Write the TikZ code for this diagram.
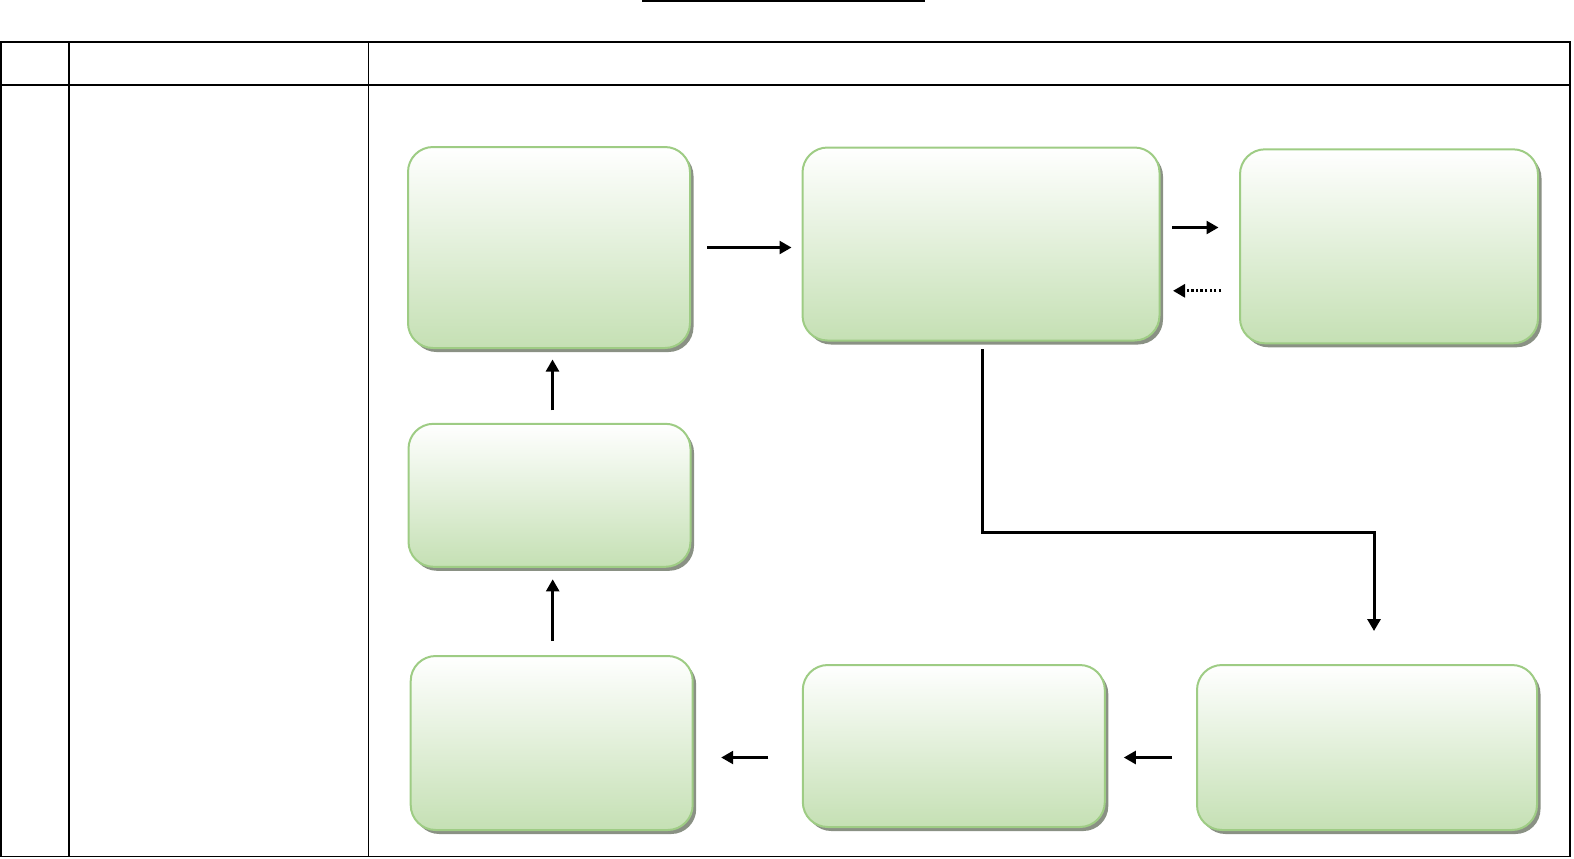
\documentclass[tikz,border=0pt]{standalone}
\usetikzlibrary{arrows.meta,shadows}
\definecolor{boxgreen}{RGB}{197,224,180}
\definecolor{boxline}{RGB}{158,204,132}
\definecolor{boxshadow}{RGB}{138,145,132}
\tikzset{
  stepbox/.style={draw=boxline, line width=0.4mm, rounded corners=5mm,
    top color=white, bottom color=boxgreen, inner sep=0pt,
    drop shadow={shadow xshift=0.7mm, shadow yshift=-0.8mm, fill=boxshadow, opacity=1}},
  flow/.style={line width=0.5mm},
  grid/.style={line width=0.35mm},
}
\begin{document}
\begin{tikzpicture}[x=0.2mm, y=-0.2mm, >={Triangle[length=2.4mm,width=2.6mm]}]
    \useasboundingbox (0,0) rectangle (1574,858);
    % title rule and table
    \draw [grid] (642,1) -- (925,1);
    \draw [grid] (1,42) rectangle (1570,856.5);
    \draw [grid] (1,85) -- (1570,85);
    \draw [grid] (69,42) -- (69,856.5);
    \draw [grid] (368.5,42) -- (368.5,856.5);
    % boxes
    \node [stepbox, minimum width=56.4mm, minimum height=40.2mm] (A0_0) at (549,247.5) {};
    \node [stepbox, minimum width=71.4mm, minimum height=38.6mm] (A0_1) at (981,244) {};
    \node [stepbox, minimum width=59.6mm, minimum height=38.8mm] (A0_2) at (1389,246.3) {};
    \node [stepbox, minimum width=56.4mm, minimum height=28.6mm] (A1_0) at (549.5,495.3) {};
    \node [stepbox, minimum width=56.4mm, minimum height=34.8mm] (A2_0) at (551.7,743) {};
    \node [stepbox, minimum width=60.4mm, minimum height=32.4mm] (A2_1) at (953.8,746) {};
    \node [stepbox, minimum width=68mm, minimum height=33mm] (A2_2) at (1367,747.5) {};
    \coordinate (turn) at (1374,532);
    % arrows
    \path (A0_0.east) edge [->,flow,shorten <=3.2mm,shorten >=2mm] (A0_0.east -| A0_1.west);
    \path ([yshift=3.3mm]A0_1.east) edge [->,flow,shorten <=2.3mm,shorten >=4.1mm] ([yshift=3.3mm]A0_1.east -| A0_2.west);
    \path ([yshift=-8.9mm]A0_2.west) edge [->,flow,line width=0.55mm,dash pattern=on 1.3pt off 1.3pt,shorten <=3.6mm,shorten >=2.5mm] ([yshift=-8.9mm]A0_2.west -| A0_1.east);
    \draw [->,line width=0.6mm,shorten <=1.5mm,shorten >=6.6mm] ([xshift=0.3mm]A0_1.south) |- (turn) -- (turn |- A2_2.north);
    \path ([yshift=-2mm]A2_2.west) edge [->,flow,shorten <=4.8mm,shorten >=3.6mm] ([yshift=-2mm]A2_2.west -| A2_1.east);
    \path ([yshift=-2.3mm]A2_1.west) edge [->,flow,shorten <=6.7mm,shorten >=5.5mm] ([yshift=-2.3mm]A2_1.west -| A2_0.east);
    \path ([xshift=0.2mm]A2_0.north) edge [->,flow,shorten <=2.8mm,shorten >=2.3mm] ([xshift=0.2mm]A2_0.north |- A1_0.south);
    \path ([xshift=0.6mm]A1_0.north) edge [->,flow,shorten <=2.5mm,shorten >=2.1mm] ([xshift=0.6mm]A1_0.north |- A0_0.south);
\end{tikzpicture}
\end{document}
